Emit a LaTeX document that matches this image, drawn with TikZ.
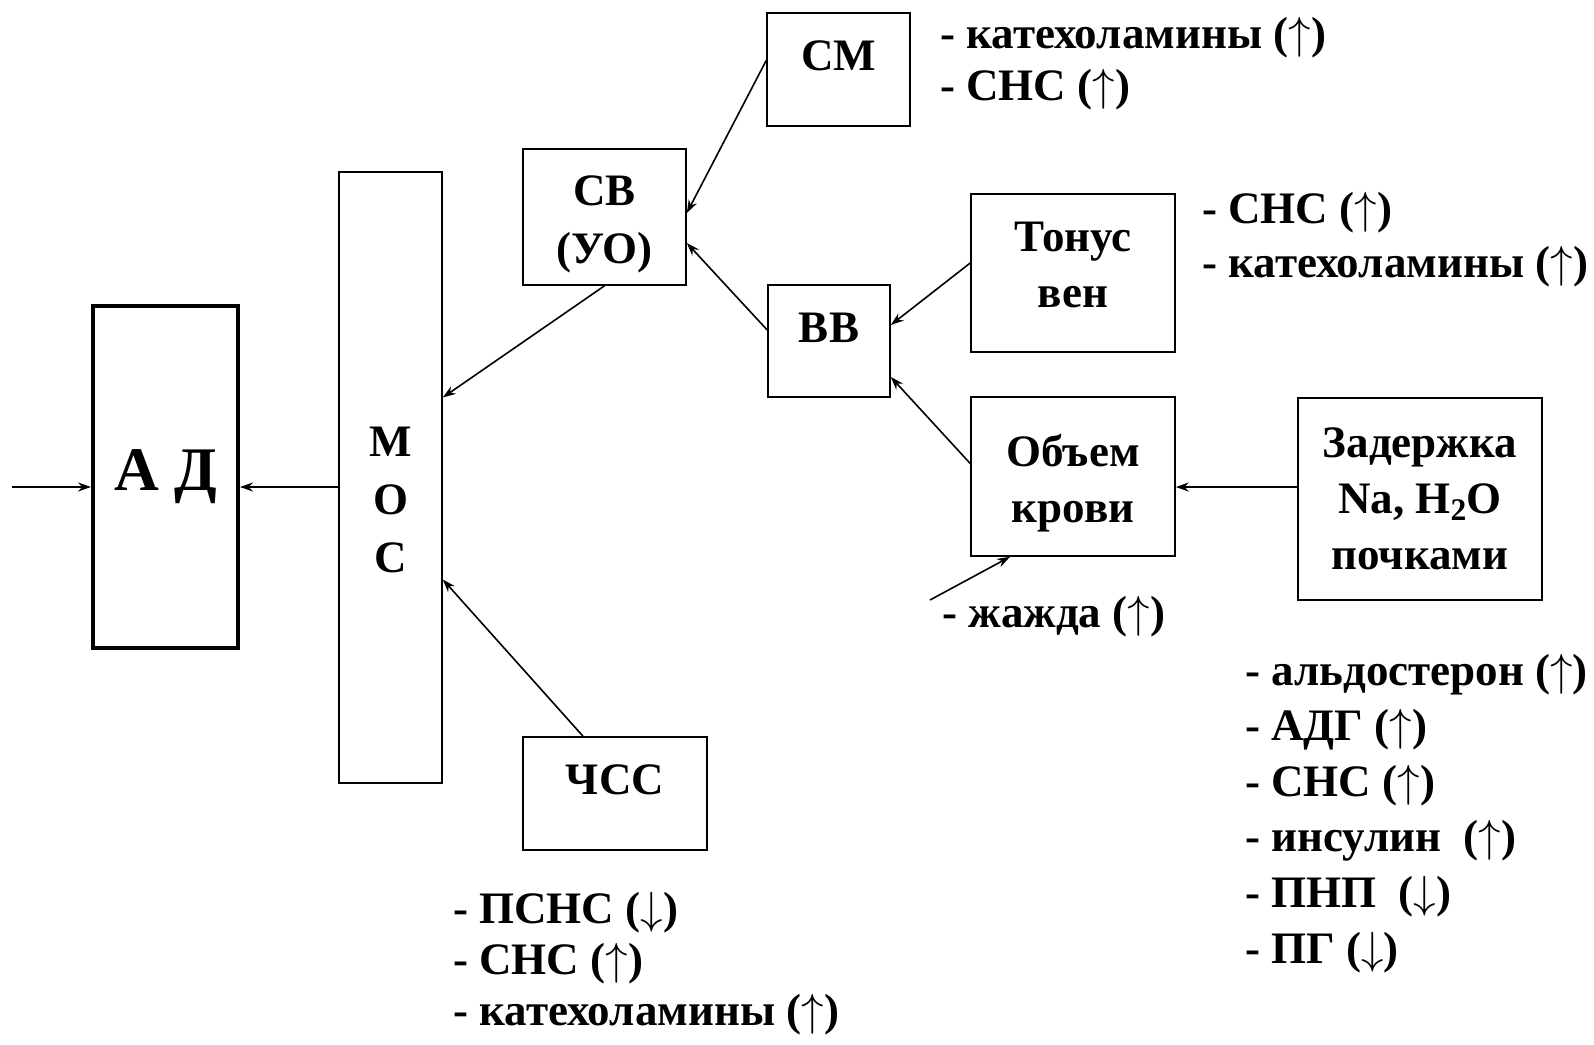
\RequirePackage{fix-cm}
\documentclass[tikz,border=0pt]{standalone}
\usepackage{fontspec}
\setmainfont{Liberation Serif}
\usepackage{tikz}
\usetikzlibrary{arrows.meta}
\usetikzlibrary{calc}

\newcommand{\blokfont}{\fontsize{45}{56}\selectfont\bfseries}

\begin{document}
\begin{tikzpicture}[>={Stealth[length=13pt, width=9pt]}, x=1pt, y=-1pt,
blok/.style={draw, line width=1.6pt, inner sep=0pt, align=center, font=\blokfont},
upper/.style={text height=31pt, text depth=29pt},
lbl/.style={inner sep=0pt, anchor=base west, font=\blokfont},
link/.style={->, line width=1.6pt}]

\useasboundingbox (0,0) rectangle (1594,1044);

%%%%%% BLOKI %%%%%%%%%%

\node [blok, line width=4pt, minimum width=145pt, minimum height=342pt, font=\fontsize{62}{62}\selectfont\bfseries] (ad) at (165.5,477) {А Д};
\node [blok, minimum width=103pt, minimum height=611pt, font=\fontsize{45}{58}\selectfont\bfseries] (mos) at (390.5,477.5) {\rule{0pt}{75pt}М\\О\\С};
\node [blok, minimum width=163pt, minimum height=136pt, font=\fontsize{45}{58}\selectfont\bfseries] (sv) at (604.5,217) {\rule{0pt}{44pt}СВ\\(УО)};
\node [blok, upper, minimum width=143pt, minimum height=113pt] (sm) at (838.5,69.5) {СМ};
\node [blok, upper, minimum width=122pt, minimum height=112pt] (vv) at (829,341) {ВВ};
\node [blok, upper, minimum width=184pt, minimum height=113pt] (chss) at (615,793.5) {ЧСС};
\node [blok, minimum width=204pt, minimum height=158pt] (tonus) at (1073,273) {Тонус\\вен\rule[-17pt]{0pt}{0pt}};
\node [blok, minimum width=204pt, minimum height=159pt] (obem) at (1073,476.5) {\rule{0pt}{45pt}Объем\\крови};
\node [blok, minimum width=244pt, minimum height=202pt] (zad) at (1420,499) {Задержка\\Na, H\textsubscript{2}O\\почками};

%%%%%% SPISKI %%%%%%%%%%

\foreach \t [count=\i from 0] in {- катехоламины ($\uparrow$), - СНС ($\uparrow$)}
  \node [lbl] (sm-l\i) at (940,48+52*\i) {\t};
\foreach \t [count=\i from 0] in {- СНС ($\uparrow$), - катехоламины ($\uparrow$)}
  \node [lbl] (tonus-l\i) at (1202,223+54*\i) {\t};
\foreach \t [count=\i from 0] in {- ПСНС ($\downarrow$), - СНС ($\uparrow$), - катехоламины ($\uparrow$)}
  \node [lbl] (chss-l\i) at (453,923+51*\i) {\t};
\foreach \t [count=\i from 0] in {- альдостерон ($\uparrow$), - АДГ ($\uparrow$), - СНС ($\uparrow$), - инсулин\ \ ($\uparrow$), - ПНП\ \ ($\downarrow$), - ПГ ($\downarrow$)}
  \node [lbl] (zad-l\i) at (1245,685+55.6*\i) {\t};
\node [lbl] (zhazhda) at (942,627) {- жажда ($\uparrow$)};

%%%%%% STRELKI %%%%%%%%%%

\coordinate (vhod) at (12,487);
\draw [link] (vhod) -- (vhod -| ad.west);
\draw [link] (vhod -| mos.west) -- (vhod -| ad.east);
\draw [link] (sv.south) -- ([yshift=80pt]mos.east);
\draw [link] ([xshift=-32pt]chss.north) -- ([yshift=-102pt]mos.east);
\draw [link] ([yshift=9pt]sm.west) -- ([yshift=4pt]sv.east);
\draw [link] ([yshift=11pt]vv.west) -- ([yshift=-26pt]sv.east);
\draw [link] ([yshift=10pt]tonus.west) -- ([yshift=16pt]vv.east);
\draw [link] ([yshift=13pt]obem.west) -- ([yshift=-36pt]vv.east);
\coordinate (zd) at ([yshift=12pt]zad.west);
\draw [link] (zd) -- (zd -| obem.east);
\coordinate (zh) at (930,600);
\draw [link] (zh) -- ([xshift=-63pt]obem.south);
\end{tikzpicture}
\end{document}
